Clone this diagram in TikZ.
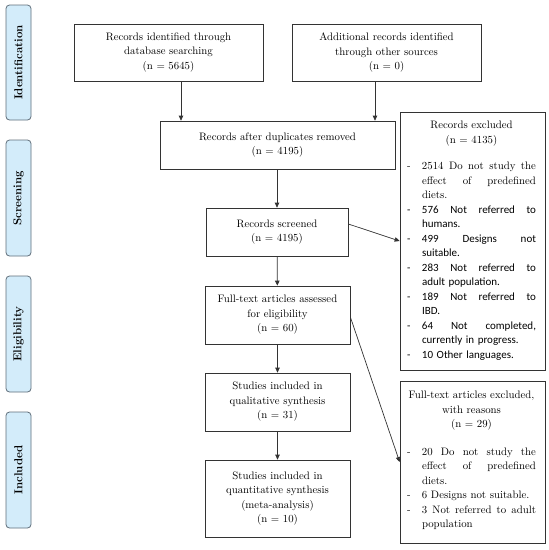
\documentclass[tikz,border=0pt]{standalone}
\usepackage{fontspec}
\newfontfamily\calfont{Carlito}
\usetikzlibrary{arrows.meta}
\newlength{\lw}\setlength{\lw}{114pt}
\newcommand{\jline}[1]{\makebox[15pt][l]{-}\makebox[\lw][s]{\spaceskip=0pt\xspaceskip=0pt #1}}
\newcommand{\lline}[1]{\makebox[15pt][l]{-}#1}
\newcommand{\jcont}[1]{\hspace*{15pt}\makebox[\lw][s]{\spaceskip=0pt\xspaceskip=0pt #1}}
\newcommand{\lcont}[1]{\hspace*{15pt}#1}
\newcommand{\hdr}[1]{\makebox[129pt][c]{#1}}
\definecolor{stagefill}{HTML}{D3ECFA}
\definecolor{stageline}{HTML}{5F6E7A}
\definecolor{boxline}{HTML}{333333}
\begin{document}
\begin{tikzpicture}[x=1pt,y=1pt,
  every node/.style={font=\fontsize{10.8}{14.5}\selectfont},
  box/.style={draw=boxline, line width=0.7pt, align=center, inner sep=0pt},
  stage/.style={draw=stageline, fill=stagefill, line width=0.8pt, rounded corners=3.5pt,
     rotate=90, minimum height=25pt, inner sep=0pt, font=\fontsize{11.5}{13}\selectfont\bfseries},
  listtext/.style={align=left, inner sep=0pt, anchor=north, text width=129pt},
  arr/.style={draw=boxline, line width=0.7pt, -{Triangle[length=5pt,width=4.5pt]}}]
\useasboundingbox (0,0) rectangle (549,-550);

% stages
\node[stage, minimum width=115pt] (s1) at (18.5,-62.5) {Identification};
\node[stage, minimum width=116pt] (s2) at (18.5,-198) {Screening};
\node[stage, minimum width=116pt] (s3) at (18.5,-334) {Eligibility};
\node[stage, minimum width=116pt] (s4) at (18.5,-470) {Included};

% main boxes
\node[box, minimum width=189pt, minimum height=57pt] (A) at (168.5,-52.5)
  {Records identified through\\database searching\\(n = 5645)};
\node[box, minimum width=189pt, minimum height=57pt] (B) at (386.5,-52.5)
  {Additional records identified\\through other sources\\(n = 0)};
\node[box, minimum width=235pt, minimum height=48pt] (C) at (277.5,-145)
  {Records after duplicates removed\\(n = 4195)};
\node[box, minimum width=142pt, minimum height=48pt] (D) at (277,-232)
  {Records screened\\(n = 4195)};
\node[box, minimum width=145pt, minimum height=58pt] (F) at (277.5,-315)
  {Full-text articles assessed\\for eligibility\\(n = 60)};
\node[box, minimum width=145pt, minimum height=58pt] (G) at (277.5,-402)
  {Studies included in\\qualitative synthesis\\(n = 31)};
\node[box, minimum width=145pt, minimum height=77pt] (H) at (277.5,-498.5)
  {Studies included in\\quantitative synthesis\\(meta-analysis)\\(n = 10)};

% exclusion boxes
\node[box, minimum width=145pt, minimum height=258pt] (E) at (472.5,-241) {};
\node[listtext] (Et) at (471.5,-121) {%
  \hdr{Records excluded}\\
  \hdr{(n = 4135)}\\[12pt]
  \jline{2514 Do not study the}\\
  \jcont{effect of predefined}\\
  \lcont{diets.}\\
  {\calfont\fontsize{11}{14.5}\selectfont
  \jline{576 Not referred to}\\
  \lcont{humans.}\\
  \jline{499 Designs not}\\
  \lcont{suitable.}\\
  \jline{283 Not referred to}\\
  \lcont{adult population.}\\
  \jline{189 Not referred to}\\
  \lcont{IBD.}\\
  \jline{64 Not completed,}\\
  \lcont{currently in progress.}\\
  \lline{10 Other languages.}}};

\node[box, minimum width=145pt, minimum height=162pt] (I) at (472.5,-462) {};
\node[listtext] (It) at (471.5,-391) {%
  \hdr{Full-text articles excluded,}\\
  \hdr{with reasons}\\
  \hdr{(n = 29)}\\[13pt]
  \jline{20 Do not study the}\\
  \jcont{effect of predefined}\\
  \lcont{diets.}\\
  \lline{6 Designs not suitable.}\\
  \jline{3 Not referred to adult}\\
  \lcont{population}};

% connectors
\coordinate (ax) at (181,0);
\coordinate (bx) at (375,0);
\draw[arr] (A.south -| ax) -- (C.north -| ax);
\draw[arr] (B.south -| bx) -- (C.north -| bx);
\draw[arr] (C.south -| D.north) -- (D.north);
\draw[arr] ([yshift=8pt]D.east) -- (E.west);
\draw[arr] (D) -- (F);
\draw[arr] (F) -- (G);
\draw[arr] (G) -- (H);
\draw[arr] ([yshift=-2pt]F.east) -- (I.west);
\end{tikzpicture}
\end{document}
